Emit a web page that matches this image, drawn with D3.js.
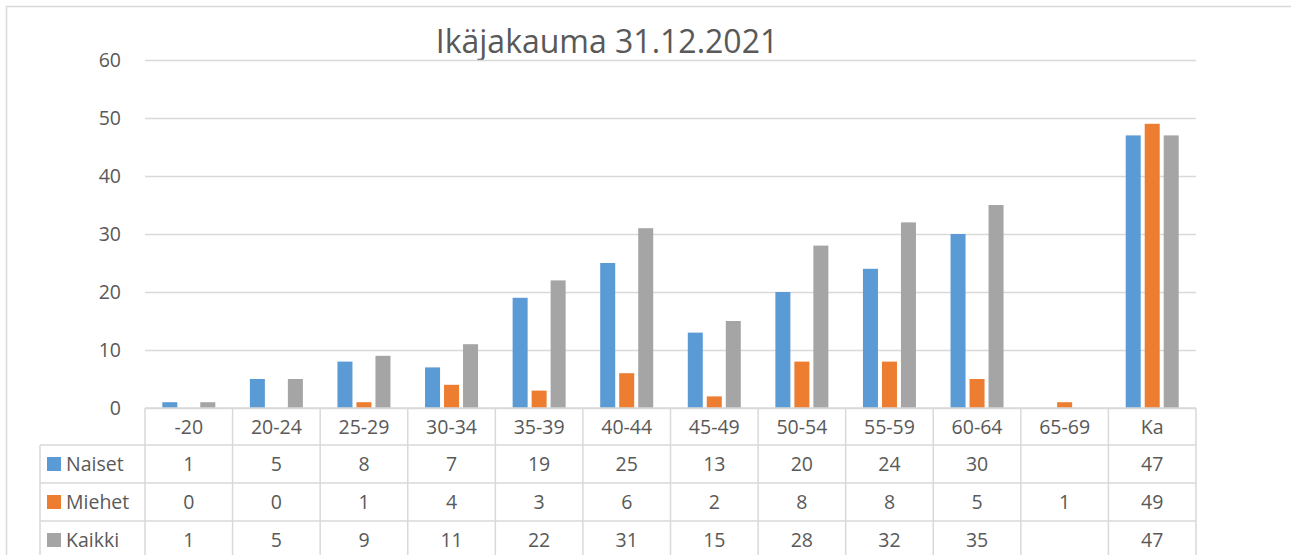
<!DOCTYPE html>
<html>
<head>
<meta charset="utf-8">
<script src="https://cdn.jsdelivr.net/npm/d3@7"></script>
<style>
  body { margin: 0; background: #fff; }
  svg { display: block; font-family: "Open Sans", "Liberation Sans", sans-serif; }
  svg text { font-family: "Open Sans", "Liberation Sans", sans-serif; }
</style>
</head>
<body>
<svg id="chart" width="1291" height="555"></svg>
<script>
// data
var categories = ["-20", "20-24", "25-29", "30-34", "35-39", "40-44", "45-49", "50-54", "55-59", "60-64", "65-69", "Ka"];
var seriesNames = ["Naiset", "Miehet", "Kaikki"];
var naiset = [1, 5, 8, 7, 19, 25, 13, 20, 24, 30, null, 47];
var miehet = [0, 0, 1, 4, 3, 6, 2, 8, 8, 5, 1, 49];
var kaikki = [1, 5, 9, 11, 22, 31, 15, 28, 32, 35, null, 47];
var colors = ["#5B9BD5", "#ED7D31", "#A5A5A5"];
var yTicks = [0, 10, 20, 30, 40, 50, 60];
var titleText = "Ikäjakauma 31.12.2021";

var values = [naiset, miehet, kaikki];
var textColor = "#595959";
var lineColor = "#d9d9d9";
var fs = "19.5px";

var svg = d3.select("#chart");
var plotLeft = 145, plotRight = 1196, plotTop = 60, plotBottom = 408;

var x = d3.scaleBand().domain(categories).range([plotLeft, plotRight]);
var inner = d3.scaleBand().domain(seriesNames).range([0, x.bandwidth()]).paddingInner(0.21).paddingOuter(0.91);
var y = d3.scaleLinear().domain([0, 60]).range([plotBottom, plotTop]);

// outer chart border
svg.append("path")
	.attr("d", "M6.5,555 V6.5 H1291")
	.attr("fill", "none")
	.attr("stroke", lineColor)
	.attr("stroke-width", 1.5);

// title
svg.append("text")
	.attr("x", 607)
	.attr("y", 53)
	.attr("text-anchor", "middle")
	.attr("fill", textColor)
	.style("font-size", "32px")
	.text(titleText);

// gridlines + y labels
var yAxis = d3.axisLeft(y).tickValues(yTicks).tickSize(-(plotRight - plotLeft)).tickPadding(24);
var gy = svg.append("g").attr("transform", "translate(" + plotLeft + ",0)").call(yAxis)
	.attr("font-family", null).attr("font-size", null);
gy.select(".domain").remove();
gy.selectAll(".tick line").attr("stroke", lineColor).attr("stroke-width", 1.3);
gy.selectAll(".tick text").attr("fill", textColor).style("font-size", fs);

// bars
seriesNames.forEach(function(s, si) {
	svg.append("g").selectAll("rect")
		.data(categories.map(function(c, i) { return {c: c, v: values[si][i]}; }).filter(function(d) { return d.v; }))
		.enter()
		.append("rect")
		.attr("x", function(d) { return x(d.c) + inner(s); })
		.attr("y", function(d) { return y(d.v); })
		.attr("width", inner.bandwidth())
		.attr("height", function(d) { return plotBottom - y(d.v); })
		.attr("fill", colors[si]);
});

// data table
var rowH = 38;
var tableLeft = 40;
var rowsTop = plotBottom + 37;
var gt = svg.append("g");

// horizontal lines
gt.append("line").attr("x1", plotLeft).attr("x2", plotRight).attr("y1", plotBottom).attr("y2", plotBottom);
for (var r = 0; r <= 3; r++) {
	gt.append("line").attr("x1", tableLeft).attr("x2", plotRight)
		.attr("y1", rowsTop + r * rowH).attr("y2", rowsTop + r * rowH);
}
// vertical lines
categories.forEach(function(c) {
	gt.append("line").attr("x1", x(c)).attr("x2", x(c)).attr("y1", plotBottom).attr("y2", 555);
});
gt.append("line").attr("x1", plotRight).attr("x2", plotRight).attr("y1", plotBottom).attr("y2", 555);
gt.append("line").attr("x1", tableLeft).attr("x2", tableLeft).attr("y1", rowsTop).attr("y2", 555);
gt.selectAll("line").attr("stroke", lineColor).attr("stroke-width", 1.5);

// header labels
gt.selectAll("text.cat")
	.data(categories)
	.enter()
	.append("text")
	.attr("class", "cat")
	.attr("x", function(d) { return x(d) + x.bandwidth() / 2; })
	.attr("y", plotBottom + 26)
	.attr("text-anchor", "middle")
	.attr("fill", textColor)
	.style("font-size", fs)
	.text(function(d) { return d; });

// rows
seriesNames.forEach(function(s, si) {
	var cy = rowsTop + si * rowH + rowH / 2;
	gt.append("rect")
		.attr("x", 47).attr("y", cy - 7)
		.attr("width", 14).attr("height", 14)
		.attr("fill", colors[si]);
	gt.append("text")
		.attr("x", 66).attr("y", cy + 7)
		.attr("fill", textColor)
		.style("font-size", fs)
		.text(s);
	gt.selectAll("text.v" + si)
		.data(categories.map(function(c, i) { return {c: c, v: values[si][i]}; }))
		.enter()
		.append("text")
		.attr("class", "v" + si)
		.attr("x", function(d) { return x(d.c) + x.bandwidth() / 2; })
		.attr("y", cy + 7)
		.attr("text-anchor", "middle")
		.attr("fill", textColor)
		.style("font-size", fs)
		.text(function(d) { return d.v === null ? "" : d.v; });
});
</script>
</body>
</html>
